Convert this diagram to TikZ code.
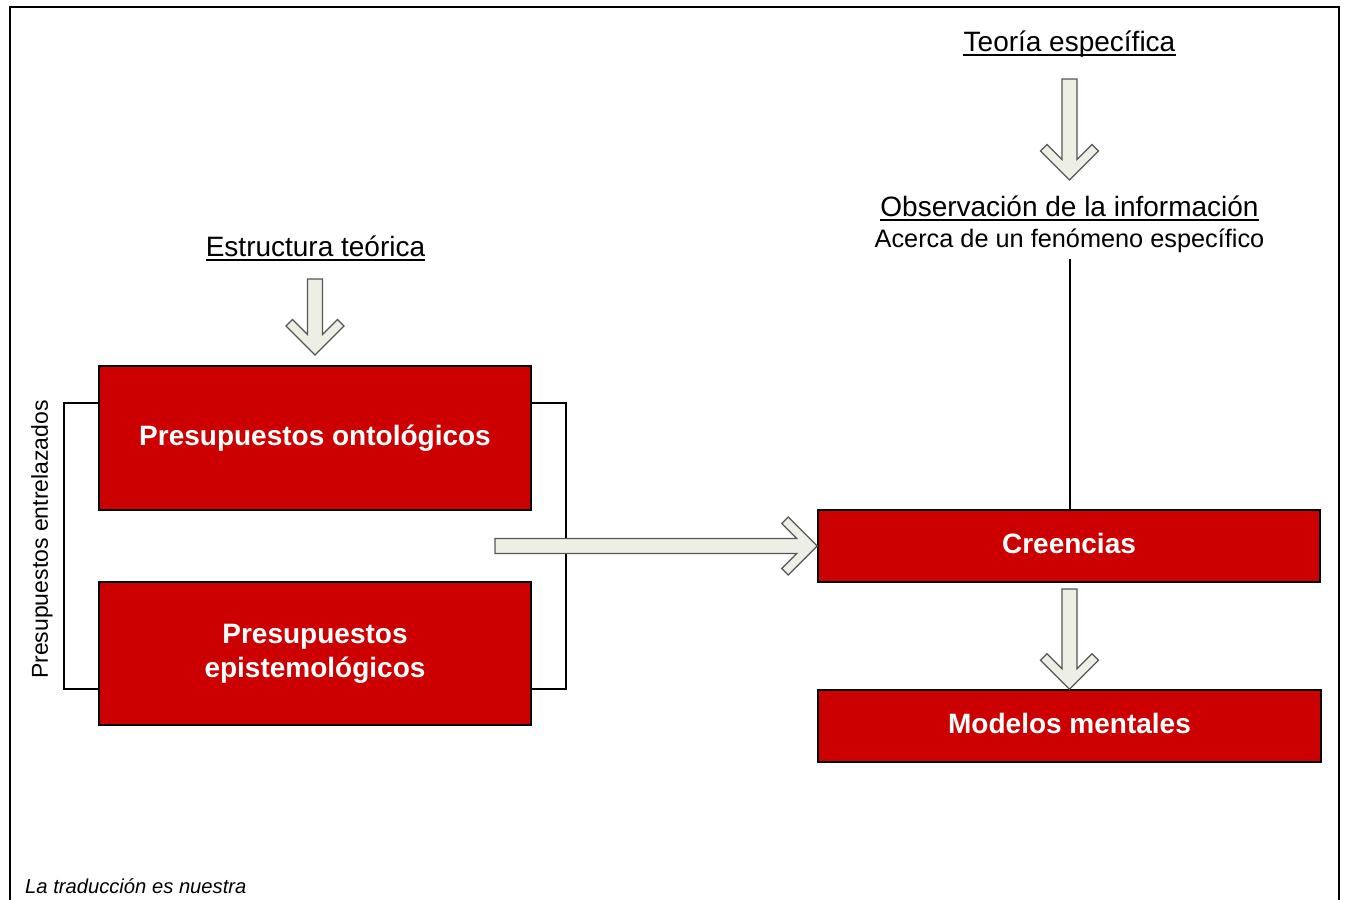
\documentclass[tikz,border=0pt]{standalone}
\usepackage{fontspec}
\setmainfont{Liberation Sans}
\usetikzlibrary{calc}
\definecolor{boxred}{HTML}{CC0000}
\definecolor{arrowfill}{HTML}{EEEFE4}
\definecolor{arrowline}{HTML}{555555}
\tikzset{
  blkarrow/.style={draw=arrowline, fill=arrowfill, line width=1.3pt, line join=miter},
  redbox/.style={draw=black, line width=1.6pt, fill=boxred, text=white, font=\bfseries\fontsize{28}{34}\selectfont, align=center, inner sep=0pt},
  onebox/.style={redbox, text height=20pt, text depth=5pt},
  lbl/.style={font=\fontsize{28}{34}\selectfont, inner sep=0pt, anchor=base},
  ulin/.style={line width=1.5pt},
  thinline/.style={draw=black, line width=1.5pt},
}
\newcommand\downblk[2]{%
  \filldraw[blkarrow] let \p1=(#1), \p2=(#2) in
  (\x2-7.5pt,\y1) -- (\x2-7.5pt,\y2+20.5pt) -- (\x2-22.5pt,\y2+35.5pt) -- (\x2-29pt,\y2+29pt) -- (\x2,\y2)
  -- (\x2+29pt,\y2+29pt) -- (\x2+22.5pt,\y2+35.5pt) -- (\x2+7.5pt,\y2+20.5pt) -- (\x2+7.5pt,\y1) -- cycle;}
\newcommand\rightblk[2]{%
  \filldraw[blkarrow] let \p1=(#1), \p2=(#2) in
  (\x1,\y2+7.5pt) -- (\x2-20.5pt,\y2+7.5pt) -- (\x2-35.5pt,\y2+22.5pt) -- (\x2-29pt,\y2+29pt) -- (\x2,\y2)
  -- (\x2-29pt,\y2-29pt) -- (\x2-35.5pt,\y2-22.5pt) -- (\x2-20.5pt,\y2-7.5pt) -- (\x1,\y2-7.5pt) -- cycle;}
\begin{document}
\begin{tikzpicture}[x=1pt, y=-1pt]
\useasboundingbox (0,0) rectangle (1345,900);
% frame
\draw[line width=2pt] (10,900) -- (10,7) -- (1339,7) -- (1339,900);

% labels
\node[lbl] (teoria) at (1069.5,51) {Teoría específica};
\draw[ulin] ([yshift=-4pt]teoria.base west) -- ([yshift=-4pt]teoria.base east);
\node[lbl] (obs) at (1069.5,216) {Observación de la información};
\draw[ulin] ([yshift=-4pt]obs.base west) -- ([yshift=-4pt]obs.base east);
\node[lbl, font=\fontsize{25.3}{30}\selectfont] (acerca) at (1069.5,247) {Acerca de un fenómeno específico};
\node[lbl] (estructura) at (315.5,256) {Estructura teórica};
\draw[ulin] ([yshift=-4pt]estructura.base west) -- ([yshift=-4pt]estructura.base east);

% boxes
\node[onebox, minimum width=432pt, minimum height=144pt] (onto) at (315,438) {Presupuestos ontológicos};
\node[redbox, minimum width=432pt, minimum height=143pt] (epis) at (315,653.5) {Presupuestos\\epistemológicos};
\node[onebox, minimum width=502pt, minimum height=72pt] (creencias) at (1069,546) {Creencias};
\node[onebox, minimum width=503pt, minimum height=72pt] (modelos) at (1069.5,726) {Modelos mentales};

% bracket
\coordinate (brtl) at (64,403);
\coordinate (brbl) at (64,689);
\coordinate (brtr) at (566,403);
\coordinate (brbr) at (566,689);
\draw[thinline] (onto.west |- brtl) -- (brtl) -- (brbl) -- (epis.west |- brbl);
\draw[thinline] (onto.east |- brtr) -- (brtr) -- (brbr) -- (epis.east |- brbr);
\node[rotate=90, font=\fontsize{23}{28}\selectfont, inner sep=0pt] (entre) at (42,539.5) {Presupuestos entrelazados};

% vertical line from observation to beliefs
\coordinate (vtop) at (1070,259);
\draw[thinline] (vtop) -- (vtop |- creencias.north);

% block arrows
\coordinate (a1s) at (1069.5,79);
\coordinate (a1t) at (1069.5,180);
\downblk{a1s}{a1t}
\coordinate (a2s) at (315,279);
\coordinate (a2t) at (315,355);
\downblk{a2s}{a2t}
\coordinate (a3s) at (1069.5,589);
\downblk{a3s}{modelos.north}
\coordinate (a4s) at (495,546);
\rightblk{a4s}{creencias.west}

% note
\node[anchor=base west, font=\itshape\fontsize{20.2}{24}\selectfont, inner sep=0pt] (nota) at (25,893) {La traducción es nuestra};
\end{tikzpicture}
\end{document}
